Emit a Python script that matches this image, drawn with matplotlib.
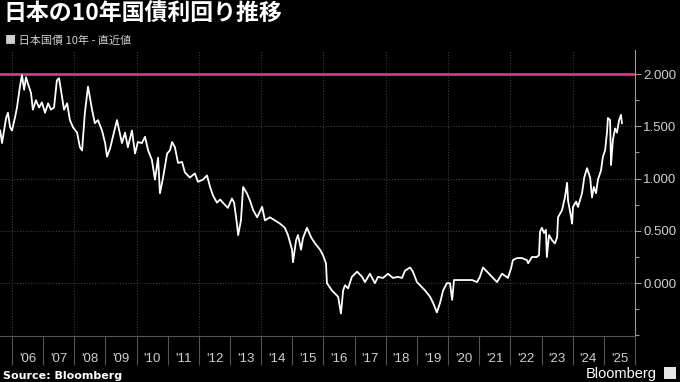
import matplotlib
matplotlib.use("Agg")
import matplotlib.pyplot as plt
from matplotlib.ticker import FixedLocator, FuncFormatter, MultipleLocator
from matplotlib.patches import Rectangle

plt.rcParams['font.family'] = ['Noto Sans CJK JP', 'DejaVu Sans']

# 10-year JGB yield (decimal year, %)
dates = [
    2005.62, 2005.68, 2005.81, 2005.87, 2005.94, 2006.00, 2006.10, 2006.16, 2006.26, 2006.32,
    2006.39, 2006.45, 2006.51, 2006.61, 2006.67, 2006.77, 2006.87, 2006.96, 2007.06, 2007.16,
    2007.25, 2007.35, 2007.44, 2007.51, 2007.57, 2007.67, 2007.77, 2007.86, 2007.96, 2008.09,
    2008.18, 2008.25, 2008.34, 2008.44, 2008.57, 2008.66, 2008.76, 2008.89, 2008.99, 2009.05,
    2009.15, 2009.24, 2009.37, 2009.53, 2009.63, 2009.72, 2009.85, 2009.95, 2010.04, 2010.17,
    2010.27, 2010.37, 2010.49, 2010.59, 2010.69, 2010.75, 2010.85, 2010.98, 2011.07, 2011.14,
    2011.23, 2011.33, 2011.46, 2011.55, 2011.71, 2011.87, 2011.97, 2012.13, 2012.26, 2012.36,
    2012.45, 2012.58, 2012.68, 2012.77, 2012.93, 2013.06, 2013.13, 2013.22, 2013.26, 2013.35,
    2013.42, 2013.54, 2013.64, 2013.74, 2013.87, 2014.03, 2014.12, 2014.28, 2014.44, 2014.60,
    2014.76, 2014.86, 2014.99, 2015.02, 2015.12, 2015.18, 2015.28, 2015.34, 2015.47, 2015.60,
    2015.73, 2015.89, 2015.98, 2016.08, 2016.11, 2016.27, 2016.37, 2016.47, 2016.56, 2016.63,
    2016.69, 2016.79, 2016.91, 2017.08, 2017.24, 2017.33, 2017.49, 2017.65, 2017.75, 2017.91,
    2018.07, 2018.23, 2018.39, 2018.52, 2018.62, 2018.78, 2018.87, 2019.00, 2019.10, 2019.26,
    2019.42, 2019.52, 2019.64, 2019.74, 2019.84, 2019.96, 2020.06, 2020.13, 2020.19, 2020.29,
    2020.45, 2020.61, 2020.77, 2020.93, 2021.02, 2021.12, 2021.25, 2021.41, 2021.57, 2021.73,
    2021.83, 2021.92, 2022.02, 2022.08, 2022.21, 2022.37, 2022.53, 2022.57, 2022.69, 2022.85,
    2022.92, 2022.95, 2023.01, 2023.08, 2023.14, 2023.17, 2023.24, 2023.34, 2023.43, 2023.50,
    2023.53, 2023.66, 2023.75, 2023.82, 2023.85, 2023.95, 2023.98, 2024.01, 2024.11, 2024.17,
    2024.30, 2024.37, 2024.46, 2024.56, 2024.62, 2024.68, 2024.75, 2024.81, 2024.91, 2024.97,
    2025.04, 2025.10, 2025.13, 2025.20, 2025.23, 2025.29, 2025.36, 2025.42, 2025.49, 2025.55,
    2025.58,
]
yields = [
    1.46, 1.34, 1.58, 1.63, 1.49, 1.46, 1.59, 1.68, 1.89, 1.99,
    1.85, 1.97, 1.91, 1.82, 1.66, 1.75, 1.68, 1.73, 1.63, 1.72,
    1.66, 1.68, 1.94, 1.96, 1.85, 1.66, 1.72, 1.56, 1.49, 1.44,
    1.30, 1.27, 1.63, 1.88, 1.66, 1.53, 1.56, 1.46, 1.34, 1.21,
    1.29, 1.40, 1.56, 1.34, 1.44, 1.30, 1.46, 1.24, 1.35, 1.34,
    1.40, 1.27, 1.18, 0.99, 1.20, 0.86, 1.01, 1.24, 1.27, 1.35,
    1.30, 1.15, 1.16, 1.06, 1.01, 1.05, 0.97, 0.99, 1.03, 0.92,
    0.84, 0.77, 0.80, 0.77, 0.72, 0.81, 0.77, 0.57, 0.46, 0.60,
    0.92, 0.86, 0.79, 0.70, 0.63, 0.73, 0.60, 0.63, 0.60, 0.57,
    0.53, 0.46, 0.32, 0.20, 0.41, 0.46, 0.32, 0.43, 0.53, 0.44,
    0.38, 0.32, 0.27, 0.19, 0.00, -0.07, -0.10, -0.13, -0.29, -0.07,
    -0.02, -0.05, 0.06, 0.11, 0.06, 0.01, 0.09, 0.00, 0.06, 0.05,
    0.09, 0.05, 0.06, 0.05, 0.12, 0.15, 0.11, 0.01, -0.02, -0.07,
    -0.13, -0.19, -0.28, -0.19, -0.07, 0.00, 0.00, -0.16, 0.03, 0.03,
    0.03, 0.03, 0.03, 0.01, 0.06, 0.15, 0.11, 0.06, 0.01, 0.09,
    0.07, 0.05, 0.14, 0.22, 0.24, 0.24, 0.22, 0.19, 0.25, 0.25,
    0.27, 0.49, 0.53, 0.48, 0.51, 0.25, 0.46, 0.41, 0.38, 0.44,
    0.63, 0.70, 0.82, 0.96, 0.79, 0.63, 0.57, 0.73, 0.78, 0.73,
    0.86, 1.01, 1.10, 1.01, 0.82, 0.92, 0.86, 0.99, 1.08, 1.21,
    1.27, 1.44, 1.58, 1.56, 1.13, 1.37, 1.48, 1.44, 1.56, 1.61,
    1.53,
]
ref_level = 2.0
y_ticks = [0.0, 0.5, 1.0, 1.5, 2.0]
years = list(range(2006, 2027))
year_labels = ["'%02d" % (y % 100) for y in range(2006, 2026)]

bg = '#000000'
fig = plt.figure(figsize=(6.8, 3.82), dpi=100, facecolor=bg)
ax = fig.add_axes([0.0, 0.12, 635 / 680, 0.749])
ax.set_facecolor(bg)

ax.set_xlim(2005.615, 2026.0)
ax.set_ylim(-0.507, 2.23)

# grid
ax.yaxis.grid(True, color='#3c3c3c', linestyle=(0, (1, 1.5)), linewidth=0.8)
for y in years[::2]:
    ax.axvline(y, color='#3c3c3c', linestyle=(0, (1, 1.5)), linewidth=0.8, zorder=0)

ax.axhline(ref_level, color='#d8367f', linewidth=2.0, zorder=2)
ax.plot(dates, yields, color='white', linewidth=1.3, zorder=3)

# spines
for s in ['left', 'top']:
    ax.spines[s].set_visible(False)
ax.spines['right'].set_color('#9a9a9a')
ax.spines['bottom'].set_color('#555555')

# y axis on the right
ax.yaxis.tick_right()
ax.yaxis.set_major_locator(FixedLocator(y_ticks))
ax.yaxis.set_minor_locator(MultipleLocator(0.25))
ax.yaxis.set_major_formatter(FuncFormatter(lambda v, p: '%.3f' % v))
ax.tick_params(axis='y', which='major', colors='#9a9a9a', labelcolor='#d0d0d0',
               length=4, width=0.8, pad=2, labelsize=9.5)
ax.tick_params(axis='y', which='minor', colors='#9a9a9a', length=3, width=0.8)

# x axis: long ticks at year boundaries, labels centred in each year
ax.xaxis.set_major_locator(FixedLocator(years))
ax.xaxis.set_major_formatter(FuncFormatter(lambda v, p: ''))
ax.xaxis.set_minor_locator(FixedLocator([y + 0.5 for y in range(2006, 2026)]))
ax.set_xticklabels(year_labels, minor=True)
ax.tick_params(axis='x', which='major', colors='#555555', length=21, width=0.8)
ax.tick_params(axis='x', which='minor', length=0, pad=12, labelcolor='#d0d0d0', labelsize=9.5)

for lab in ax.get_xticklabels(minor=True) + ax.get_yticklabels():
    lab.set_family(['Liberation Sans'])

# titles and footer
fig.text(0.005, 0.963, '日本の10年国債利回り推移', color='white', fontsize=16.5,
         fontweight='bold', va='center')
fig.text(0.007, 0.893, '■ 日本国債 10年 - 直近値', color='#cfcfcf', fontsize=8, va='center')
fig.text(0.004, 0.016, 'Source: Bloomberg', color='white', fontsize=8, fontweight='bold',
         family=['DejaVu Sans'], va='center')
fig.text(0.966, 0.022, 'Bloomberg', color='white', fontsize=10.5, family=['Liberation Sans'],
         ha='right', va='center')
fig.patches.append(Rectangle((0.976, 0.008), 0.018, 0.032, transform=fig.transFigure,
                             facecolor='#e6e6e6', edgecolor='none'))

fig.savefig('out.png', dpi=100, facecolor=bg)
